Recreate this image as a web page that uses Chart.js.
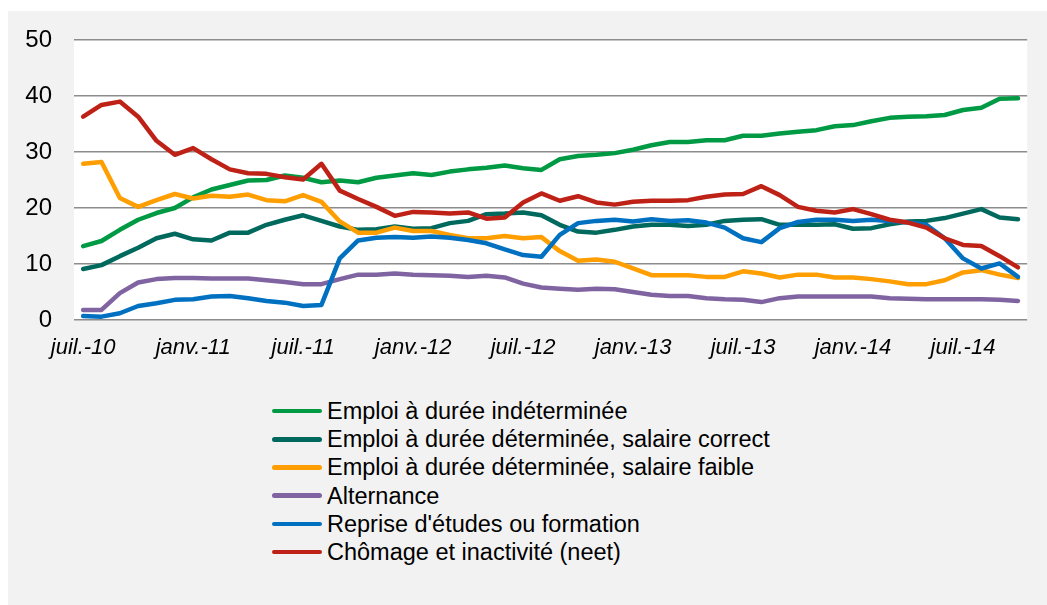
<!DOCTYPE html>
<html>
<head>
<meta charset="utf-8">
<script src="https://cdn.jsdelivr.net/npm/chart.js@4.4.0/dist/chart.umd.min.js"></script>
<style>
    body { margin: 0; background: #ffffff; width: 1047px; height: 605px; overflow: hidden; position: relative; }
    #panel { position: absolute; left: 8px; top: 11px; width: 1039px; height: 594px; background: #f2f2f2; }
    #chartBox { position: absolute; left: 8px; top: 11px; width: 1025px; height: 359px; }
    #chartBox canvas { display: block; }
    #legend { position: absolute; left: 272px; top: 397px; font-family: "Liberation Sans", Arial, sans-serif; font-size: 23.5px; color: #000; }
    .row { height: 28.2px; line-height: 28px; display: flex; align-items: center; white-space: nowrap; }
    .swatch { width: 50px; height: 4.5px; border-radius: 3px; margin-right: 5px; flex: none; }
</style>
</head>
<body>
<div id="panel"></div>
<div id="chartBox"><canvas id="parcoursChart" width="1025" height="359"></canvas></div>
<div id="legend"></div>
<script>
const months = [
    "juil.-10", "août-10", "sept.-10", "oct.-10", "nov.-10", "déc.-10",
    "janv.-11", "févr.-11", "mars-11", "avr.-11", "mai-11", "juin-11",
    "juil.-11", "août-11", "sept.-11", "oct.-11", "nov.-11", "déc.-11",
    "janv.-12", "févr.-12", "mars-12", "avr.-12", "mai-12", "juin-12",
    "juil.-12", "août-12", "sept.-12", "oct.-12", "nov.-12", "déc.-12",
    "janv.-13", "févr.-13", "mars-13", "avr.-13", "mai-13", "juin-13",
    "juil.-13", "août-13", "sept.-13", "oct.-13", "nov.-13", "déc.-13",
    "janv.-14", "févr.-14", "mars-14", "avr.-14", "mai-14", "juin-14",
    "juil.-14", "août-14", "sept.-14", "oct.-14"
];

const edi = [13.2, 14.1, 16.1, 17.9, 19.1, 20.0, 21.9, 23.3, 24.1, 24.9, 25.0, 25.8, 25.4, 24.6, 24.9, 24.6, 25.4, 25.8, 26.2, 25.9, 26.5, 26.9, 27.2, 27.6, 27.1, 26.8, 28.7, 29.3, 29.5, 29.8, 30.4, 31.2, 31.8, 31.8, 32.1, 32.1, 32.9, 32.9, 33.3, 33.6, 33.9, 34.6, 34.8, 35.5, 36.1, 36.3, 36.4, 36.6, 37.5, 37.9, 39.5, 39.6];
const eddCorrect = [9.1, 9.8, 11.4, 12.9, 14.6, 15.4, 14.4, 14.2, 15.6, 15.6, 17.0, 17.9, 18.7, 17.7, 16.7, 16.1, 16.2, 16.7, 16.3, 16.4, 17.3, 17.7, 18.9, 19.0, 19.2, 18.7, 17.0, 15.8, 15.6, 16.1, 16.7, 17.0, 17.0, 16.8, 17.0, 17.7, 17.9, 18.0, 17.0, 17.0, 17.0, 17.1, 16.3, 16.4, 17.1, 17.6, 17.7, 18.2, 19.0, 19.8, 18.3, 18.0];
const eddFaible = [27.9, 28.2, 21.8, 20.2, 21.4, 22.5, 21.7, 22.2, 22.0, 22.4, 21.4, 21.2, 22.3, 21.1, 17.6, 15.6, 15.6, 16.5, 15.9, 15.9, 15.2, 14.6, 14.6, 15.0, 14.6, 14.8, 12.3, 10.6, 10.8, 10.4, 9.2, 8.0, 8.0, 8.0, 7.7, 7.7, 8.7, 8.3, 7.6, 8.1, 8.1, 7.6, 7.6, 7.3, 6.9, 6.4, 6.4, 7.1, 8.5, 8.9, 8.1, 7.5];
const alternance = [1.8, 1.8, 4.8, 6.7, 7.3, 7.5, 7.5, 7.4, 7.4, 7.4, 7.1, 6.8, 6.4, 6.4, 7.3, 8.1, 8.1, 8.3, 8.1, 8.0, 7.9, 7.7, 7.9, 7.6, 6.5, 5.8, 5.6, 5.4, 5.6, 5.5, 5.0, 4.5, 4.3, 4.3, 3.9, 3.7, 3.6, 3.2, 3.9, 4.2, 4.2, 4.2, 4.2, 4.2, 3.9, 3.8, 3.7, 3.7, 3.7, 3.7, 3.6, 3.4];
const reprise = [0.7, 0.6, 1.2, 2.5, 3.0, 3.6, 3.7, 4.2, 4.3, 3.9, 3.4, 3.1, 2.5, 2.7, 11.0, 14.2, 14.7, 14.8, 14.7, 14.9, 14.7, 14.3, 13.7, 12.6, 11.6, 11.3, 15.2, 17.3, 17.7, 17.9, 17.6, 18.0, 17.7, 17.8, 17.4, 16.5, 14.6, 13.9, 16.4, 17.5, 17.9, 17.9, 17.7, 17.9, 17.7, 17.4, 17.0, 14.6, 11.0, 9.2, 10.1, 7.7];
const neet = [36.3, 38.4, 39.0, 36.3, 32.0, 29.5, 30.7, 28.7, 26.9, 26.2, 26.1, 25.5, 25.1, 27.9, 23.1, 21.6, 20.2, 18.6, 19.3, 19.2, 19.0, 19.2, 18.1, 18.3, 21.0, 22.6, 21.3, 22.1, 21.0, 20.6, 21.1, 21.3, 21.3, 21.4, 22.0, 22.4, 22.5, 23.9, 22.3, 20.2, 19.5, 19.2, 19.8, 18.9, 17.9, 17.4, 16.5, 14.6, 13.4, 13.2, 11.4, 9.4];

const seriesNames = [
    "Emploi à durée indéterminée",
    "Emploi à durée déterminée, salaire correct",
    "Emploi à durée déterminée, salaire faible",
    "Alternance",
    "Reprise d'études ou formation",
    "Chômage et inactivité (neet)"
];
const seriesData = [edi, eddCorrect, eddFaible, alternance, reprise, neet];
const seriesColors = ["#009a44", "#00695e", "#ff9e00", "#8064a2", "#0070c0", "#be2116"];
const fontFamily = "'Liberation Sans', Arial, sans-serif";

// white plot area on the grey panel
const plotBackground = {
    id: "plotBackground",
    beforeDraw(chart) {
        const { ctx, chartArea } = chart;
        ctx.save();
        ctx.fillStyle = "#ffffff";
        ctx.fillRect(chartArea.left, chartArea.top, chartArea.right - chartArea.left, chartArea.bottom - chartArea.top);
        ctx.restore();
    }
};

const datasets = seriesNames.map((name, i) => ({
    label: name,
    data: seriesData[i],
    borderColor: seriesColors[i],
    backgroundColor: seriesColors[i],
    borderWidth: 4.5,
    pointRadius: 0,
    tension: 0,
    fill: false,
    borderCapStyle: "round",
    borderJoinStyle: "round",
    order: seriesNames.length - i, // last series drawn on top, like the original
}));

const ctx = document.getElementById("parcoursChart").getContext("2d");
const parcoursChart = new Chart(ctx, {
    type: "line",
    data: { labels: months, datasets },
    plugins: [plotBackground],
    options: {
        responsive: false,
        animation: false,
        layout: { padding: { top: 29, left: 0, right: 0, bottom: 0 } },
        plugins: {
            legend: { display: false },
            tooltip: { enabled: false },
        },
        scales: {
            x: {
                offset: true,
                grid: { display: false, drawTicks: false },
                border: { display: false },
                afterFit: (scale) => { scale.height = 50; },
                ticks: {
                    autoSkip: false,
                    maxRotation: 0,
                    padding: 15,
                    color: "#000000",
                    font: { family: fontFamily, size: 22, style: "italic" },
                    callback: (value, index) => (index % 6 === 0 ? months[index] : ""),
                },
            },
            y: {
                min: 0,
                max: 50,
                afterFit: (scale) => { scale.width = 66; },
                border: { display: false },
                // invisible tick marks give the gap between labels and plot
                grid: { color: "#8c8c8c", lineWidth: 1.6, drawTicks: true, tickLength: 22, tickColor: "rgba(0,0,0,0)" },
                ticks: {
                    stepSize: 10,
                    padding: 0,
                    color: "#000000",
                    font: { family: fontFamily, size: 24 },
                },
            },
        },
    },
});

// legend as a single column under the chart
document.getElementById("legend").innerHTML = seriesNames
    .map((name, i) => `<div class="row"><span class="swatch" style="background:${seriesColors[i]}"></span>${name}</div>`)
    .join("");
</script>
</body>
</html>
